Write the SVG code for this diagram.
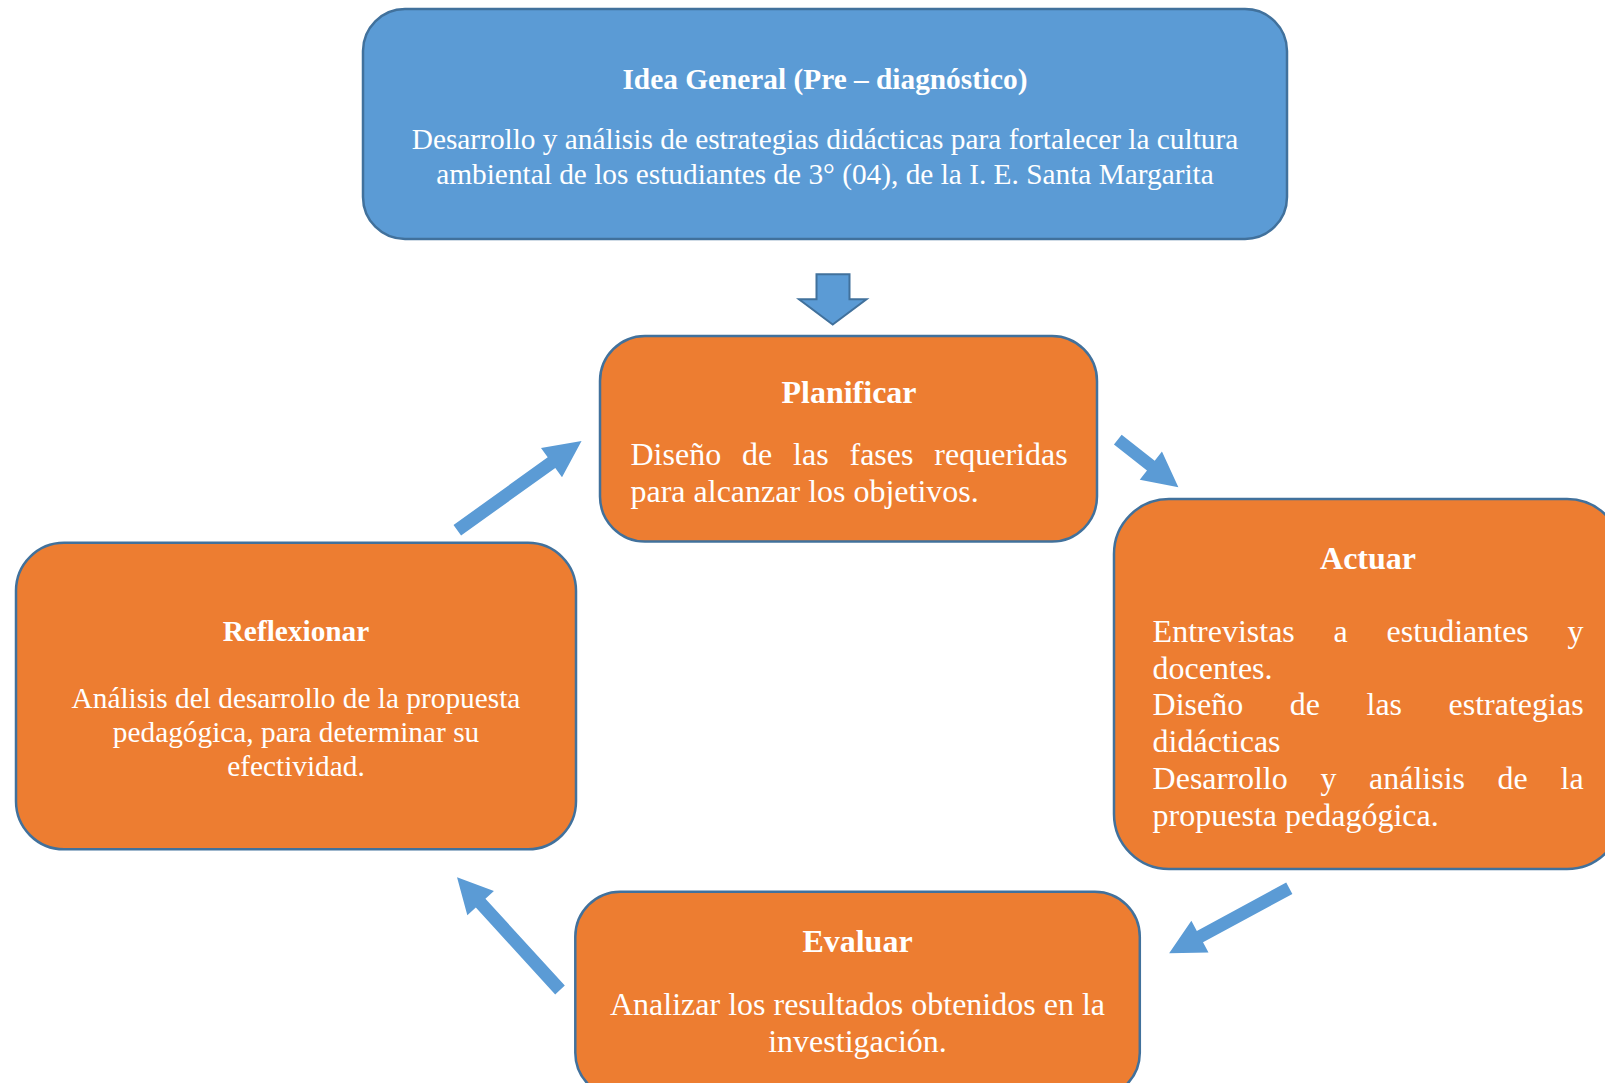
<svg xmlns="http://www.w3.org/2000/svg" width="1605" height="1083" viewBox="0 0 1605 1083">
<style>
.box{stroke:#41719C;stroke-width:2.5}
.blue{fill:#5B9BD5}
.orange{fill:#ED7D31}
text{font-family:"Liberation Serif","Times New Roman",serif;fill:#FFFFFF}
.t1{font-size:29.33px;font-weight:bold;text-anchor:middle}
.b1{font-size:29.33px;text-anchor:middle}
.t2{font-size:32px;font-weight:bold;text-anchor:middle}
.b2{font-size:32px}
.c{text-anchor:middle}
.e{text-anchor:end}
.arrow{fill:#5B9BD5}
</style>
<rect width="1605" height="1083" fill="#FFFFFF"/>
<g id="connectors">
<path class="arrow" d="M816.5,274.3 H849.5 V299.3 H866.5 L832.7,324.5 L799,299.3 H816.5 Z" stroke="#41719C" stroke-width="2" stroke-linejoin="miter"/>
<path class="arrow" transform="translate(1117.8,439.7) rotate(38.1)" d="M0,-6.25 H42 V-18 L77,0 L42,18 V6.25 H0 Z"/>
<path class="arrow" transform="translate(1289.3,888.3) rotate(151.6)" d="M0,-6.5 H101.6 V-18 L136.6,0 L101.6,18 V6.5 H0 Z"/>
<path class="arrow" transform="translate(560,990) rotate(-132.4)" d="M0,-6.5 H117.7 V-18 L152.7,0 L117.7,18 V6.5 H0 Z"/>
<path class="arrow" transform="translate(457.3,530.3) rotate(-35.7)" d="M0,-6.5 H116 V-18 L153,0 L116,18 V6.5 H0 Z"/>
</g>
<g id="idea-general">
<rect class="box blue" x="363" y="9" width="924" height="230" rx="42" ry="42"/>
<text class="t1" x="825" y="89">Idea General (Pre – diagnóstico)</text>
<text class="b1" x="825" y="149">Desarrollo y análisis de estrategias didácticas para fortalecer la cultura</text>
<text class="b1" x="825" y="184">ambiental de los estudiantes de 3° (04), de la I. E. Santa Margarita</text>
</g>
<g id="planificar">
<rect class="box orange" x="600" y="336" width="497" height="205.5" rx="45" ry="45"/>
<text class="t2" x="849" y="402.5">Planificar</text>
<text class="b2" y="465"><tspan x="630.5">Diseño</tspan><tspan x="742">de</tspan><tspan x="793.1">las</tspan><tspan x="849.5">fases</tspan></text>
<text class="b2 e" x="1067.6" y="465">requeridas</text>
<text class="b2" x="630.5" y="501.8">para alcanzar los objetivos.</text>
</g>
<g id="actuar">
<rect class="box orange" x="1114" y="499" width="508" height="370" rx="55" ry="55"/>
<text class="t2" x="1368" y="569">Actuar</text>
<text class="b2" y="641.8"><tspan x="1152.6">Entrevistas</tspan><tspan x="1333.6">a</tspan><tspan x="1386.6">estudiantes</tspan></text>
<text class="b2 e" x="1583.6" y="641.8">y</text>
<text class="b2" x="1152.6" y="678.6">docentes.</text>
<text class="b2" y="715.4"><tspan x="1152.6">Diseño</tspan><tspan x="1289.8">de</tspan><tspan x="1366.5">las</tspan></text>
<text class="b2 e" x="1583.6" y="715.4">estrategias</text>
<text class="b2" x="1152.6" y="752.2">didácticas</text>
<text class="b2" y="789"><tspan x="1152.6">Desarrollo</tspan><tspan x="1320.4">y</tspan><tspan x="1369">análisis</tspan><tspan x="1497.6">de</tspan></text>
<text class="b2 e" x="1583.6" y="789">la</text>
<text class="b2" x="1152.6" y="825.8">propuesta pedagógica.</text>
</g>
<g id="evaluar">
<rect class="box orange" x="575.3" y="891.7" width="564.5" height="206" rx="45" ry="45"/>
<text class="t2" x="857.5" y="952.2">Evaluar</text>
<text class="b2 c" x="857.5" y="1015">Analizar los resultados obtenidos en la</text>
<text class="b2 c" x="857.5" y="1051.6">investigación.</text>
</g>
<g id="reflexionar">
<rect class="box orange" x="16" y="542.7" width="560" height="306.6" rx="48" ry="48"/>
<text class="t1" x="296" y="641">Reflexionar</text>
<text class="b1" x="296" y="708.4">Análisis del desarrollo de la propuesta</text>
<text class="b1" x="296" y="742">pedagógica, para determinar su</text>
<text class="b1" x="296" y="775.6">efectividad.</text>
</g>
</svg>
